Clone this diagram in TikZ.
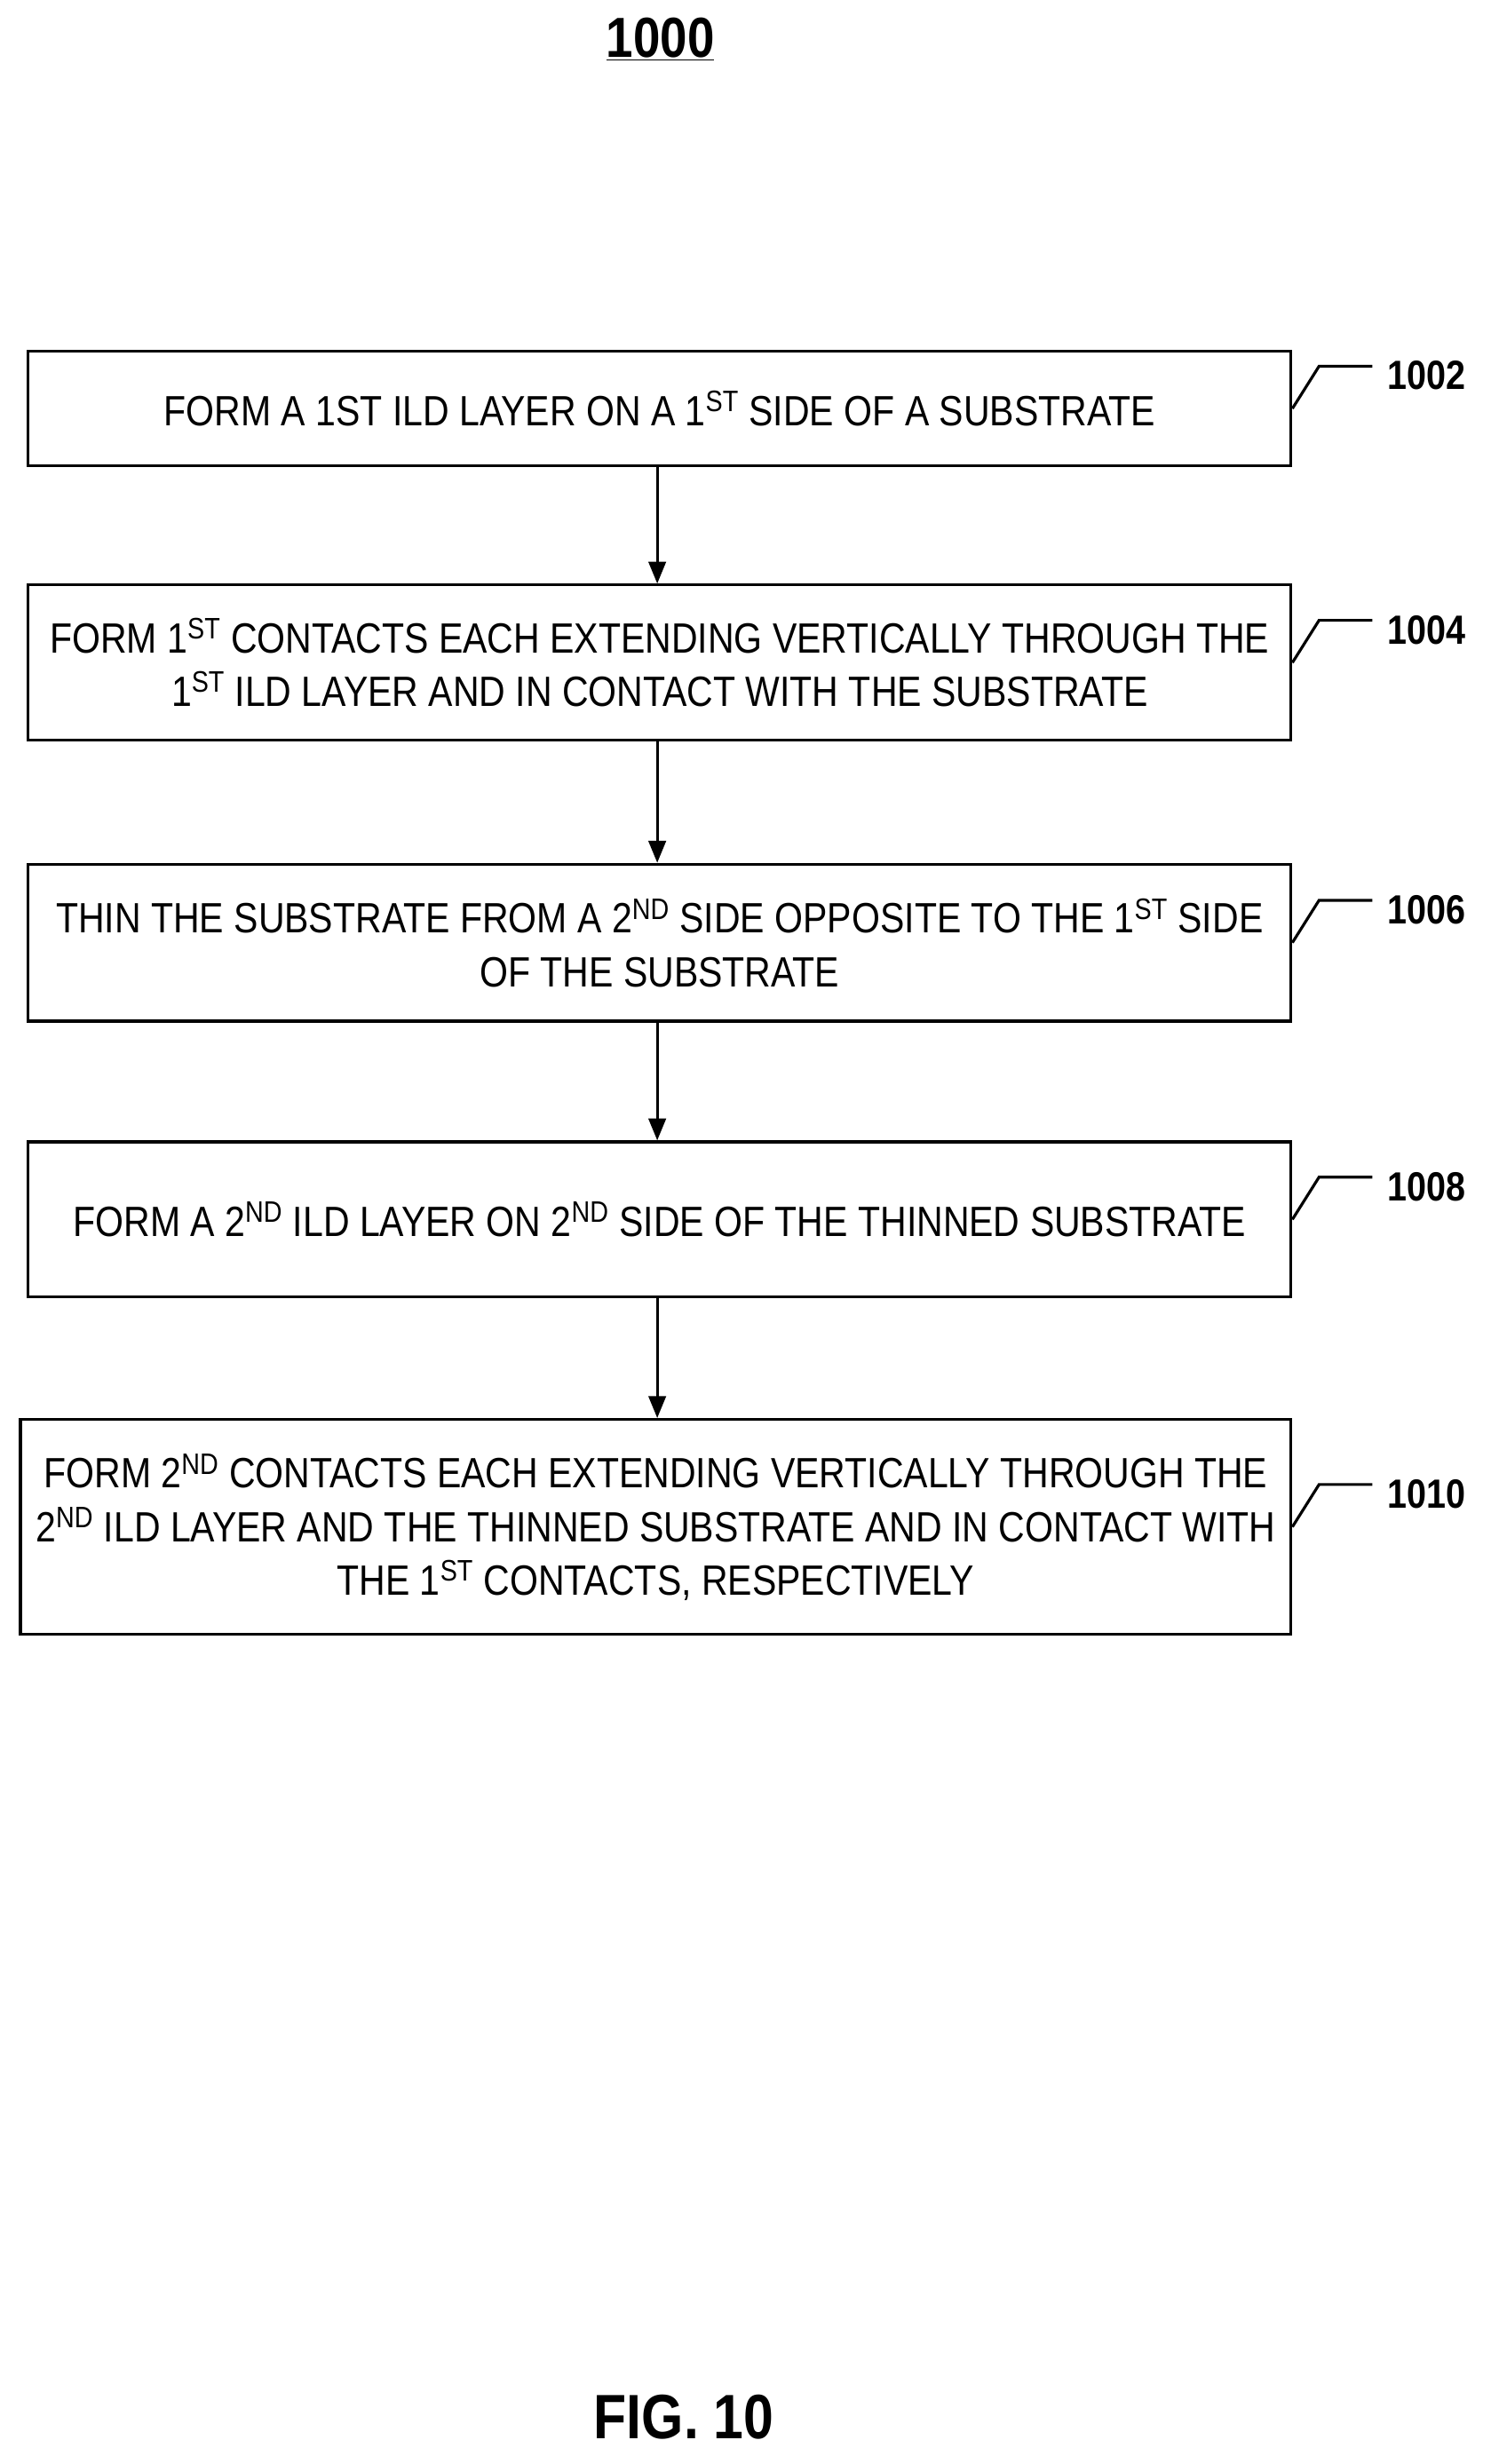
\documentclass[tikz,border=0pt]{standalone}
\usepackage{fontspec}
\setmainfont[FakeStretch=0.86]{Liberation Sans}
\usetikzlibrary{calc,arrows.meta}

\tikzset{
  step/.style={draw, line width=1.8pt, minimum height=#1, inner sep=0pt, align=center,
    font=\fontsize{27}{34}\selectfont},
  flow/.style={-{Triangle[length=14pt,width=11pt]}, line width=1.8pt},
  tag/.style={anchor=west, font=\bfseries\fontsize{26}{28}\selectfont},
}

\begin{document}
\begin{tikzpicture}[x=1pt,y=-1pt]
\useasboundingbox (0,0) rectangle (950,1571);

% title
\node (title) at (421,25) {\bfseries\fontsize{36}{40}\selectfont\underline{1000}};

% steps
\node[step=73pt, minimum width=805pt] (s1002) at (420.5,260.5) {FORM A 1ST ILD LAYER ON A 1\textsuperscript{ST} SIDE OF A SUBSTRATE};
\node[step=99pt, minimum width=805pt] (s1004) at (420.5,422.5) {FORM 1\textsuperscript{ST} CONTACTS EACH EXTENDING VERTICALLY THROUGH THE\\1\textsuperscript{ST} ILD LAYER AND IN CONTACT WITH THE SUBSTRATE};
\node[step=100pt, minimum width=805pt] (s1006) at (420.5,601) {THIN THE SUBSTRATE FROM A 2\textsuperscript{ND} SIDE OPPOSITE TO THE 1\textsuperscript{ST} SIDE\\OF THE SUBSTRATE};
\node[step=99pt, minimum width=805pt] (s1008) at (420.5,777.5) {FORM A 2\textsuperscript{ND} ILD LAYER ON 2\textsuperscript{ND} SIDE OF THE THINNED SUBSTRATE};
\node[step=137pt, minimum width=810pt] (s1010) at (418,973.5) {FORM 2\textsuperscript{ND} CONTACTS EACH EXTENDING VERTICALLY THROUGH THE\\2\textsuperscript{ND} ILD LAYER AND THE THINNED SUBSTRATE AND IN CONTACT WITH\\THE 1\textsuperscript{ST} CONTACTS, RESPECTIVELY};

% arrows
\draw[flow] (s1002.south -| 419,0) -- (s1004.north -| 419,0);
\draw[flow] (s1004.south -| 419,0) -- (s1006.north -| 419,0);
\draw[flow] (s1006.south -| 419,0) -- (s1008.north -| 419,0);
\draw[flow] (s1008.south -| 419,0) -- (s1010.north -| 419,0);

% reference labels
\foreach \s in {1002,1004,1006,1008,1010}{
  \coordinate (k\s) at ($(s\s.east)+(17,-27)$);
  \draw[line width=1.8pt] (s\s.east) -- (k\s) -- ++(34,0) coordinate (e\s);
  \node[tag] (t\s) at ($(e\s)+(6,6)$) {\s};
}

\node (fig) at (436,1541) {\bfseries\fontsize{40}{44}\selectfont FIG. 10};
\end{tikzpicture}
\end{document}
